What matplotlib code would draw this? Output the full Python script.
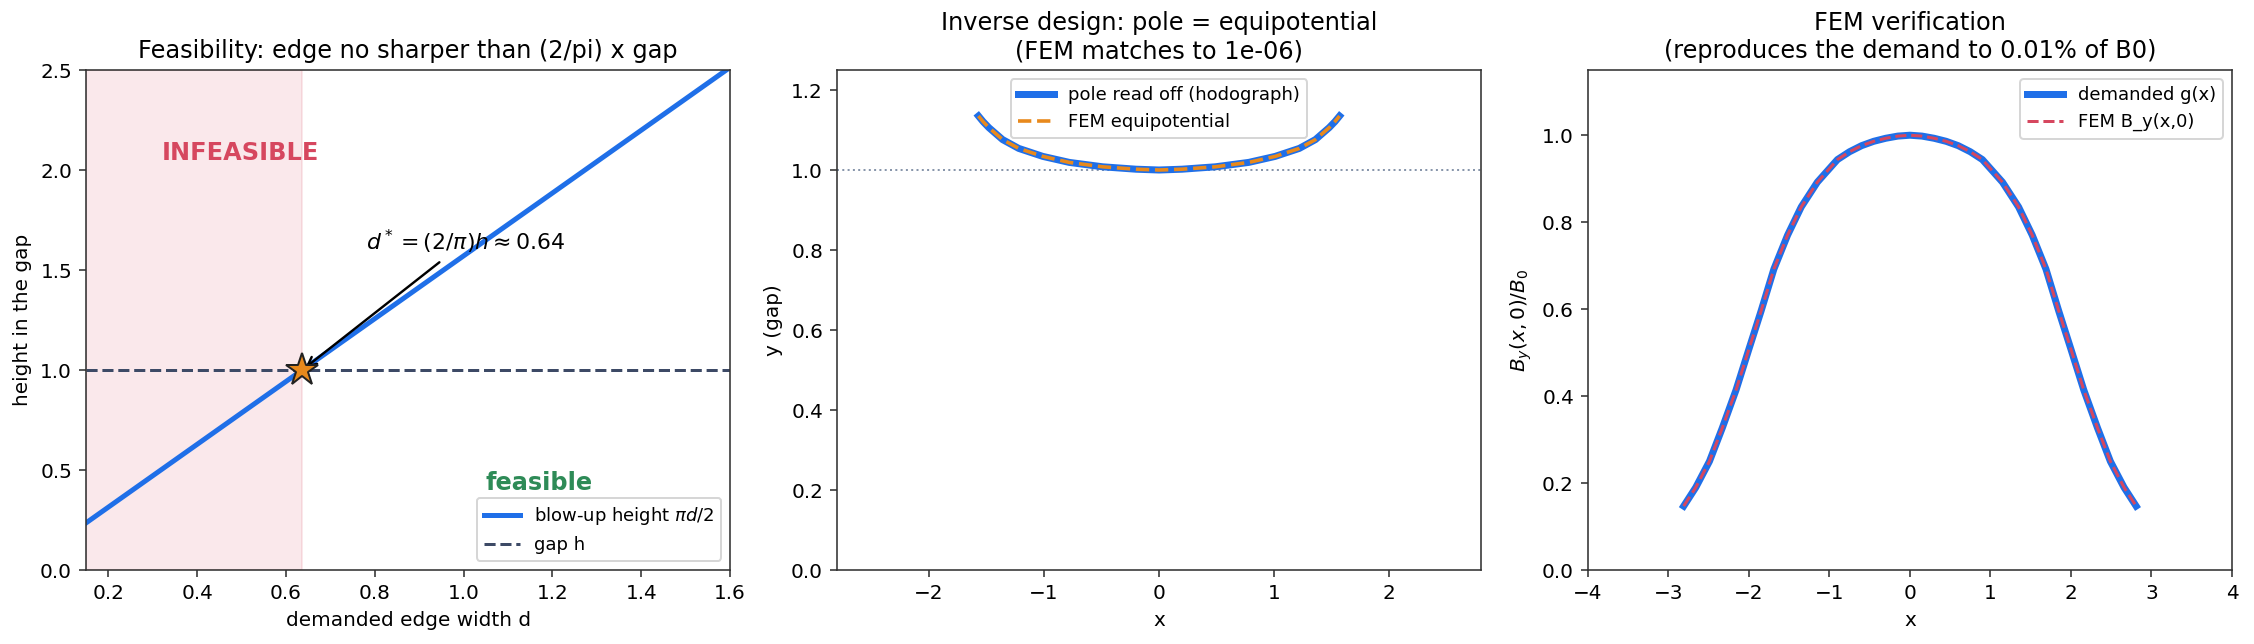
import numpy as np
import matplotlib
matplotlib.use("Agg")
import matplotlib.pyplot as plt

# panel 1: feasibility
d_range = [0.15, 1.6]
gap_h = 1.0
d_star = 2 / np.pi

# panel 2: pole shape (right half, mirrored)
pole_half_x = [0.0, 0.2, 0.49, 0.78, 1.01, 1.22, 1.36, 1.48, 1.53, 1.57]
pole_half_y = [1.000, 1.002, 1.008, 1.019, 1.034, 1.054, 1.076, 1.106, 1.121, 1.135]

# panel 3: demanded field profile (right half, mirrored)
half_x = [0.0, 0.15, 0.3, 0.45, 0.6, 0.75, 0.9, 1.03, 1.15, 1.35, 1.52, 1.69,
          1.85, 2.0, 2.16, 2.33, 2.49, 2.66, 2.81]
half_g = [1.000, 0.998, 0.993, 0.986, 0.976, 0.962, 0.944, 0.917, 0.892, 0.835,
          0.770, 0.692, 0.595, 0.508, 0.414, 0.327, 0.250, 0.190, 0.147]

BLUE = "#1f6fe8"
RED = "#d6475f"
ORANGE = "#e8891c"
GREEN = "#2e8b57"
SLATE = "#3d4a66"


def mirror(xs, ys):
    return [-v for v in xs[::-1]] + xs[1:], ys[::-1] + ys[1:]


plt.rcParams["axes.edgecolor"] = "#333333"
plt.rcParams["xtick.color"] = "#333333"
plt.rcParams["ytick.color"] = "#333333"
plt.rcParams["xtick.labelcolor"] = "black"
plt.rcParams["ytick.labelcolor"] = "black"

fig, axes = plt.subplots(1, 3, figsize=(2254 / 144, 644 / 144), dpi=144)
fig.subplots_adjust(left=0.0382, right=0.9902, bottom=0.1149, top=0.8913, wspace=0.166)

# --- feasibility
ax = axes[0]
d = np.array(d_range)
ax.axvspan(d_range[0], d_star, color=RED, alpha=0.12)
ax.plot(d, np.pi * d / 2, color=BLUE, lw=2.5, label=r"blow-up height $\pi d/2$")
ax.axhline(gap_h, color=SLATE, ls="--", lw=1.5, label="gap h")
ax.plot([d_star], [gap_h], marker="*", ms=17, color=ORANGE, mec="#222222", mew=1, zorder=5)
ax.annotate(r"$d^* = (2/\pi)h \approx 0.64$", xy=(d_star, gap_h), xytext=(0.78, 1.6),
            fontsize=11, arrowprops=dict(arrowstyle="->", color="black", lw=1.2))
ax.text(0.32, 2.05, "INFEASIBLE", color=RED, fontsize=12, fontweight="bold")
ax.text(1.05, 0.40, "feasible", color=GREEN, fontsize=12, fontweight="bold")
ax.set_xlim(*d_range)
ax.set_ylim(0, 2.5)
ax.set_xlabel("demanded edge width d")
ax.set_ylabel("height in the gap")
ax.set_title("Feasibility: edge no sharper than (2/pi) x gap")
ax.legend(loc="lower right", fontsize=9)

# --- inverse design
ax = axes[1]
px, py = mirror(pole_half_x, pole_half_y)
ax.axhline(1.0, color="#8896ab", ls=":", lw=1.0)
ax.plot(px, py, color=BLUE, lw=3.5, label="pole read off (hodograph)")
ax.plot(px, py, color=ORANGE, ls="--", lw=1.8, label="FEM equipotential")
ax.set_xlim(-2.8, 2.8)
ax.set_ylim(0, 1.25)
ax.set_xlabel("x")
ax.set_ylabel("y (gap)")
ax.set_title("Inverse design: pole = equipotential\n(FEM matches to 1e-06)")
ax.legend(loc="upper center", fontsize=9)

# --- FEM verification
ax = axes[2]
xs, gs = mirror(half_x, half_g)
ax.plot(xs, gs, color=BLUE, lw=3.5, label="demanded g(x)")
ax.plot(xs, gs, color=RED, ls="--", lw=1.5, label="FEM B_y(x,0)")
ax.set_xlim(-4, 4)
ax.set_ylim(0, 1.15)
ax.set_xlabel("x")
ax.set_ylabel(r"$B_y(x,0)/B_0$")
ax.set_title("FEM verification\n(reproduces the demand to 0.01% of B0)")
ax.legend(loc="upper right", fontsize=9)

fig.savefig("out.png", dpi=144)
